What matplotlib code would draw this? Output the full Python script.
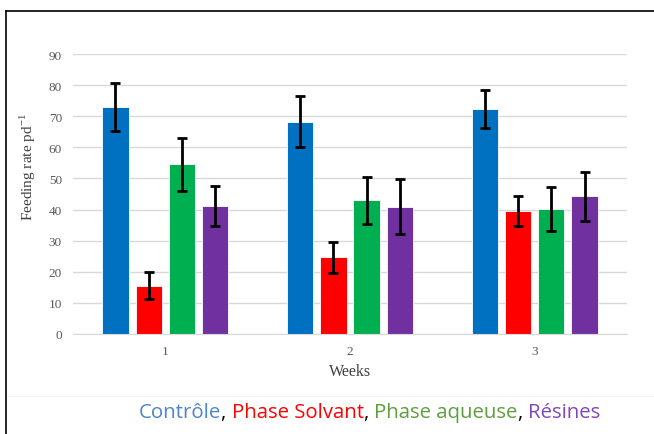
import matplotlib.pyplot as plt
from matplotlib.lines import Line2D
import numpy as np

weeks = ["1", "2", "3"]
series = ["Contrôle", "Phase Solvant", "Phase aqueuse", "Résines"]
controle = [73.0, 68.3, 72.3]
solvant = [15.5, 24.6, 39.6]
aqueuse = [54.5, 43.0, 40.2]
resines = [41.2, 40.9, 44.2]
err_controle = [7.7, 8.2, 6.1]
err_solvant = [4.3, 5.0, 4.9]
err_aqueuse = [8.5, 7.6, 7.0]
err_resines = [6.5, 8.8, 7.8]

bar_colors = ["#0070C0", "#FF0000", "#00B050", "#7030A0"]
text_colors = ["#4A86C8", "#FF0000", "#5E9E3E", "#7F48B8"]

values = [controle, solvant, aqueuse, resines]
errors = [err_controle, err_solvant, err_aqueuse, err_resines]

fig = plt.figure(figsize=(6.54, 4.35), dpi=100)
ax = fig.add_axes([73 / 654, 1 - 335 / 435, 554 / 654, 280 / 435])

x = np.arange(len(weeks))
width = 0.143
step = 0.18
for i, (vals, errs) in enumerate(zip(values, errors)):
    pos = x + (i - 1.5) * step
    ax.bar(pos, vals, width, color=bar_colors[i], edgecolor="white",
           linewidth=0.6, zorder=2)
    ax.errorbar(pos, vals, yerr=errs, fmt="none", ecolor="black",
                elinewidth=2, capsize=3.5, capthick=2, zorder=3)

ax.set_xlim(-0.5, 2.5)
ax.set_ylim(0, 90)
ax.set_yticks(range(0, 91, 10))
ax.set_xticks(x)
ax.set_xticklabels(weeks)
ax.yaxis.grid(True, color="#D9D9D9", linewidth=1, zorder=0)
ax.set_axisbelow(True)
for s in ["top", "right", "left"]:
    ax.spines[s].set_visible(False)
ax.spines["bottom"].set_color("#D9D9D9")
ax.tick_params(axis="both", length=0, labelsize=9.5, colors="#595959", pad=8)
for lab in ax.get_xticklabels() + ax.get_yticklabels():
    lab.set_fontfamily("Liberation Serif")
ax.set_xlabel("Weeks", fontsize=11.5, family="Liberation Serif", color="#404040", labelpad=4)
ax.set_ylabel("Feeding rate pd$^{\\mathregular{-1}}$", fontsize=11, family="Liberation Serif",
              color="#404040", labelpad=8)
ax.yaxis.set_label_coords(-0.063, 0.6)

# frame lines around the figure
fig.add_artist(Line2D([8 / 654, 1], [1 - 397 / 435, 1 - 397 / 435], color="#F2F2F2", linewidth=0.8))
fig.add_artist(Line2D([6 / 654, 6 / 654], [0, 1 - 12 / 435], color="black", linewidth=1.2))
fig.add_artist(Line2D([6 / 654, 1], [1 - 12 / 435, 1 - 12 / 435], color="black", linewidth=1.2))

# colored legend text
xpos = 139 / 654
ypos = 1 - 413 / 435
fs = 14.7
renderer = fig.canvas.get_renderer()
for i, name in enumerate(series):
    t = fig.text(xpos, ypos, name, color=text_colors[i], fontsize=fs,
                 family="Open Sans", va="center")
    bb = t.get_window_extent(renderer=renderer)
    xpos = bb.x1 / fig.bbox.width
    if i < len(series) - 1:
        t = fig.text(xpos, ypos, ", ", color="black", fontsize=fs,
                     family="Open Sans", va="center")
        bb = t.get_window_extent(renderer=renderer)
        xpos = bb.x1 / fig.bbox.width

fig.savefig("out.png", dpi=100)
